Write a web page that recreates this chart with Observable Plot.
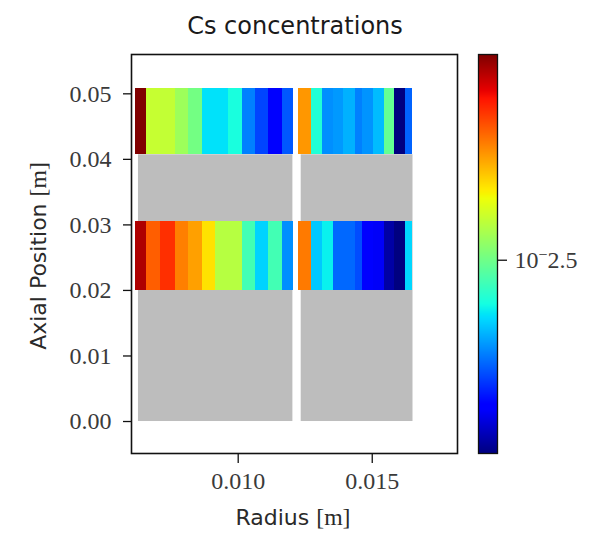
<!DOCTYPE html>
<html>
<head>
<meta charset="utf-8">
<script src="https://cdn.jsdelivr.net/npm/d3@7"></script>
<script src="https://cdn.jsdelivr.net/npm/@observablehq/plot@0.6"></script>
<style>
  body { margin: 0; background: #fff; }
  #chart { position: relative; width: 598px; height: 535px; overflow: hidden; }
  #chart svg { position: absolute; left: 0; top: 0; }
  .lbl { position: absolute; white-space: nowrap; color: #2a2a2a; font-family: "DejaVu Sans", sans-serif; }
  .lbl .br { font-family: "Liberation Serif", serif; font-size: 1.08em; }
  #title { left: 295px; top: 26px; transform: translate(-50%, -50%); font-size: 24px; color: #1a1a1a; }
  #xlabel { left: 293px; top: 517px; transform: translate(-50%, -50%); font-size: 22px; }
  #ylabel { left: 38px; top: 256px; transform: translate(-50%, -50%) rotate(-90deg); font-size: 22px; }
</style>
</head>
<body>
<div id="chart">
  <div class="lbl" id="title">Cs concentrations</div>
  <div class="lbl" id="xlabel">Radius <span class="br">[m]</span></div>
  <div class="lbl" id="ylabel">Axial Position <span class="br">[m]</span></div>
</div>
<script>
// Radial cell edges [m]: fuel region and outer ring
const innerEdges = [0.00617, 0.00657, 0.00711, 0.00766, 0.00816, 0.00866, 0.00915,
                    0.00965, 0.01015, 0.01065, 0.01114, 0.01164, 0.01205];
const outerEdges = [0.01225, 0.01275, 0.01316, 0.01356, 0.01393, 0.01437,
                    0.01464, 0.01505, 0.01545, 0.01583, 0.01625, 0.01652];

// Axial extent of the two sampled slices [m]
const sliceBottom = [0.0200, 0.0407];
const sliceTop    = [0.0305, 0.0508];

// Cs concentration per radial cell, lower slice
const csLowerInner = [0.00819, 0.00607, 0.00671, 0.00566, 0.00528, 0.00459,
                      0.00376, 0.00376, 0.00284, 0.00233, 0.00284, 0.00204];
const csLowerOuter = [0.00572, 0.00228, 0.00247, 0.00189, 0.00189, 0.00179,
                      0.00153, 0.00148, 0.00128, 0.00120, 0.00235];
// Cs concentration per radial cell, upper slice
const csUpperInner = [0.00887, 0.00391, 0.00387, 0.00354, 0.00320, 0.00240,
                      0.00240, 0.00257, 0.00198, 0.00176, 0.00153, 0.00183];
const csUpperOuter = [0.00538, 0.00262, 0.00204, 0.00208, 0.00218, 0.00198,
                      0.00206, 0.00223, 0.00308, 0.00120, 0.00187];

// Geometry shown in grey where no concentration is plotted
const greyR1 = [0.00628, 0.01235];
const greyR2 = [0.01204, 0.01652];
const greyZ = [0.0, 0.0407];

// Scale settings
const csMin = 0.00120, csMax = 0.00887;
const radiusTicks = [0.010, 0.015];
const axialTicks = [0.00, 0.01, 0.02, 0.03, 0.04, 0.05];
const colorbarTicks = [-2.5]; // log10 of concentration

// matplotlib "jet" colormap
function piece(t, pts) {
  for (let i = 1; i < pts.length; i++) {
    if (t <= pts[i][0]) {
      const [a, va] = pts[i - 1], [b, vb] = pts[i];
      return va + (vb - va) * (t - a) / (b - a);
    }
  }
  return pts[pts.length - 1][1];
}
function jet(t) {
  t = Math.max(0, Math.min(1, t));
  const r = piece(t, [[0, 0], [0.35, 0], [0.66, 1], [0.89, 1], [1, 0.5]]);
  const g = piece(t, [[0, 0], [0.125, 0], [0.375, 1], [0.64, 1], [0.91, 0], [1, 0]]);
  const b = piece(t, [[0, 0.5], [0.11, 1], [0.34, 1], [0.65, 0], [1, 0]]);
  return `rgb(${Math.round(r * 255)},${Math.round(g * 255)},${Math.round(b * 255)})`;
}
const colorScale = {type: "log", domain: [csMin, csMax], interpolate: jet};

// Build cells
const cells = [];
function addCells(edges, values, s) {
  values.forEach((c, i) => cells.push({r1: edges[i], r2: edges[i + 1], z1: sliceBottom[s], z2: sliceTop[s], c}));
}
addCells(innerEdges, csLowerInner, 0);
addCells(outerEdges, csLowerOuter, 0);
addCells(innerEdges, csUpperInner, 1);
addCells(outerEdges, csUpperOuter, 1);
const grey = greyR1.map((r1, i) => ({r1, r2: greyR2[i], z1: greyZ[0], z2: greyZ[1]}));

const fontStyle = {fontFamily: "'Liberation Serif', serif", fontSize: "24px", color: "#3a3a3a", background: "transparent", overflow: "visible"};

const main = Plot.plot({
  width: 598, height: 535,
  marginLeft: 131, marginRight: 141, marginTop: 54, marginBottom: 82,
  x: {domain: [0.00602, 0.01818]},
  y: {domain: [-0.00488, 0.0560]},
  color: colorScale,
  style: fontStyle,
  marks: [
    Plot.rect(grey, {x1: "r1", x2: "r2", y1: "z1", y2: "z2", fill: "#bdbdbd"}),
    Plot.rect(cells, {x1: "r1", x2: "r2", y1: "z1", y2: "z2", fill: "c", shapeRendering: "crispEdges"}),
    Plot.axisX({ticks: radiusTicks, tickFormat: d3.format(".3f"), tickSize: 10, tickPadding: 8, stroke: "#111", strokeWidth: 1.3, label: null}),
    Plot.axisY({ticks: axialTicks, tickFormat: d3.format(".2f"), tickSize: 8, tickPadding: 12, stroke: "#111", strokeWidth: 1.3, label: null}),
    Plot.frame({stroke: "#111", strokeWidth: 1.6})
  ]
});

const lo = Math.log10(csMin), hi = Math.log10(csMax);
const bar = Plot.plot({
  width: 598, height: 535,
  marginLeft: 478, marginRight: 101, marginTop: 54, marginBottom: 82,
  x: {domain: [0, 1], axis: null},
  y: {domain: [lo, hi]},
  color: colorScale,
  style: fontStyle,
  marks: [
    Plot.raster({x1: 0, x2: 1, y1: lo, y2: hi, fill: (x, y) => 10 ** y, imageRendering: "auto"}),
    Plot.axisY({anchor: "right", ticks: colorbarTicks, tickFormat: d => "10^" + d, tickSize: 9, tickPadding: 8, stroke: "#111", strokeWidth: 1.3, label: null}),
    Plot.frame({stroke: "#111", strokeWidth: 1.3})
  ]
});
bar.style.pointerEvents = "none";

// Exponent label: raised minus sign followed by the value
bar.querySelectorAll("text").forEach(t => {
  const s = t.textContent;
  if (s.startsWith("10^")) {
    const v = Math.abs(+s.slice(3));
    t.textContent = "";
    const ns = "http://www.w3.org/2000/svg";
    const a = document.createElementNS(ns, "tspan"); a.textContent = "10";
    const b = document.createElementNS(ns, "tspan"); b.textContent = "\u2212"; b.setAttribute("dy", "-8"); b.setAttribute("font-size", "16");
    const c = document.createElementNS(ns, "tspan"); c.textContent = String(v); c.setAttribute("dy", "8");
    t.append(a, b, c);
  }
});

const chart = document.getElementById("chart");
chart.prepend(bar);
chart.prepend(main);
</script>
</body>
</html>
